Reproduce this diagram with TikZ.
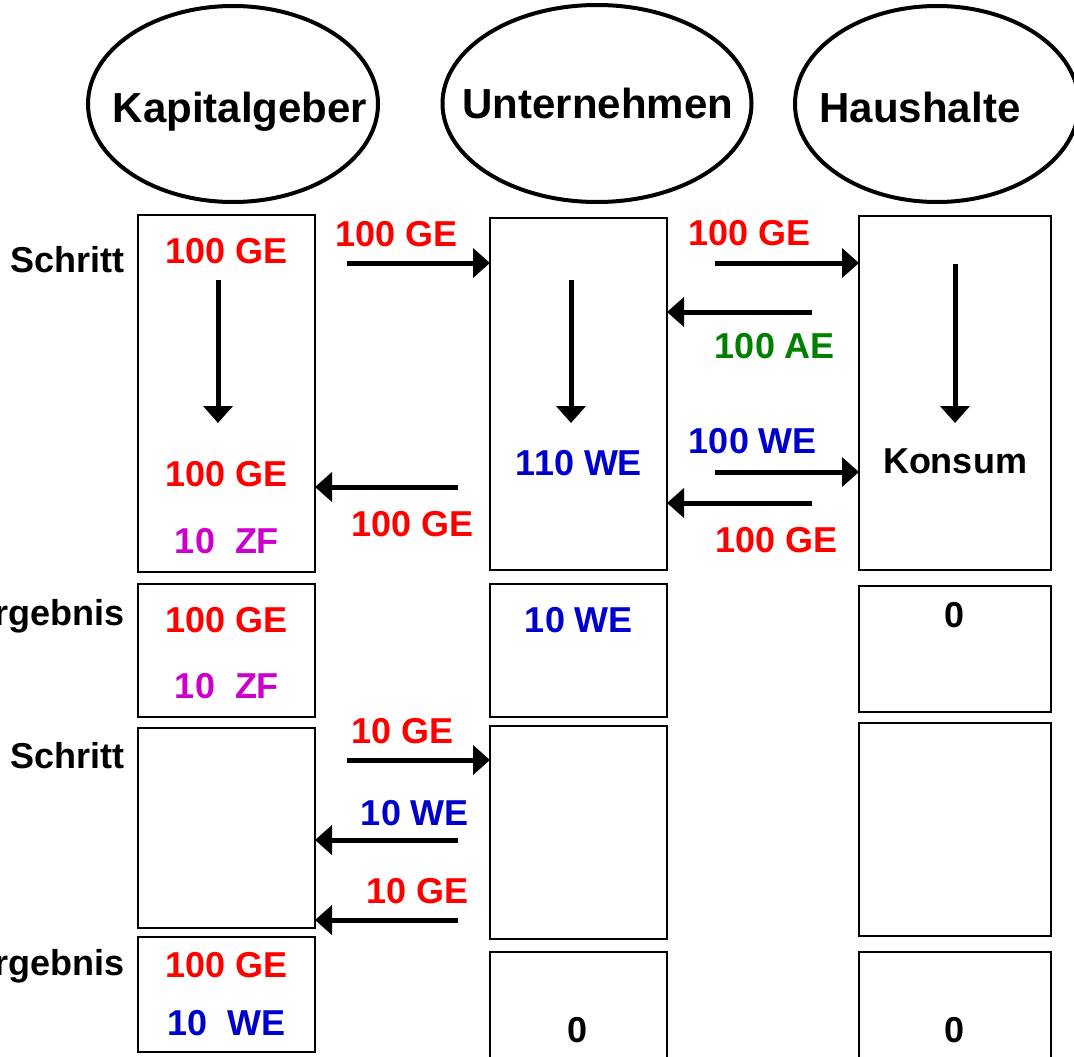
\documentclass[tikz,border=0pt]{standalone}
\usepackage{fontspec}
\setmainfont{Liberation Sans}
\usetikzlibrary{arrows.meta,shapes.geometric}
\definecolor{cred}{HTML}{FF0000}
\definecolor{cgreen}{HTML}{008000}
\definecolor{cblue}{HTML}{0000CC}
\definecolor{cmag}{HTML}{CC00CC}
\tikzset{
  txt/.style={inner sep=0pt, anchor=base, font=\bfseries\fontsize{36}{40}\selectfont},
  lbl/.style={txt, anchor=base east},
  head/.style={inner sep=0pt, anchor=base, font=\bfseries\fontsize{42}{48}\selectfont},
  ell/.style={draw, ellipse, line width=4pt, inner sep=0pt, outer sep=0pt},
  box/.style={draw, line width=1.6pt, inner sep=0pt, outer sep=0pt},
  arr/.style={line width=5pt, -{Triangle[length=17pt,width=29pt]}},
}
\begin{document}
\begin{tikzpicture}[x=1pt,y=-1pt]
\fill[white] (0,0) rectangle (1074,1057);
\clip (0,0) rectangle (1074,1057);

% header ellipses
\node[ell, minimum width=290pt, minimum height=196pt] (kg) at (233,104) {};
\node[ell, minimum width=309pt, minimum height=197pt] (un) at (597,103.5) {};
\node[ell, minimum width=284pt, minimum height=196pt] (hh) at (937,104) {};
\node[head] (kgt) at (240,122) {Kapitalgeber};
\node[head] (unt) at (598,118) {Unternehmen};
\node[head] (hht) at (920,122) {Haushalte};

% row labels
\node[lbl] (l1) at (125,272) {Schritt};
\node[lbl] (l2) at (125,625) {Ergebnis};
\node[lbl] (l3) at (125,768) {Schritt};
\node[lbl] (l4) at (125,975) {Ergebnis};

% boxes column 1
\node[box, minimum width=177pt, minimum height=357pt] (k1) at (226.5,393.5) {};
\node[box, minimum width=177pt, minimum height=133pt] (k2) at (226.5,650.5) {};
\node[box, minimum width=177pt, minimum height=200pt] (k3) at (226.5,828) {};
\node[box, minimum width=177pt, minimum height=115pt] (k4) at (226.5,994.5) {};
% boxes column 2
\node[box, minimum width=177pt, minimum height=352pt] (u1) at (578.5,394) {};
\node[box, minimum width=177pt, minimum height=133pt] (u2) at (578.5,650.5) {};
\node[box, minimum width=177pt, minimum height=213pt] (u3) at (578.5,832.5) {};
\node[box, minimum width=177pt, minimum height=128pt] (u4) at (578.5,1016) {};
% boxes column 3
\node[box, minimum width=192pt, minimum height=354pt] (h1) at (955,393) {};
\node[box, minimum width=192pt, minimum height=126pt] (h2) at (955,649) {};
\node[box, minimum width=192pt, minimum height=213pt] (h3) at (955,829.5) {};
\node[box, minimum width=192pt, minimum height=128pt] (h4) at (955,1016) {};

% texts column 1
\node[txt, text=cred] (k1a) at (227,263) {100 GE};
\node[txt, text=cred] (k1b) at (227,486) {100 GE};
\node[txt, text=cmag] (k1c) at (227,553) {10\ \ ZF};
\node[txt, text=cred] (k2a) at (227,632) {100 GE};
\node[txt, text=cmag] (k2b) at (227,698) {10\ \ ZF};
\node[txt, text=cred] (k4a) at (227,977) {100 GE};
\node[txt, text=cblue] (k4b) at (227,1035) {10\ \ WE};
% texts column 2
\node[txt, text=cblue] (u1a) at (579,475) {110 WE};
\node[txt, text=cblue] (u2a) at (579,632) {10 WE};
\node[txt] (u4a) at (578,1042) {0};
% texts column 3
\node[txt] (h1a) at (955,473) {Konsum};
\node[txt] (h2a) at (955,627) {0};
\node[txt] (h4a) at (955,1042) {0};

% internal down arrows
\coordinate (dk1) at (218,280);
\coordinate (dk2) at (218,423);
\coordinate (du1) at (571,280);
\coordinate (du2) at (571,423);
\coordinate (dh1) at (955,264);
\coordinate (dh2) at (955,423);
\draw[arr] (dk1) -- (dk2);
\draw[arr] (du1) -- (du2);
\draw[arr] (dh1) -- (dh2);

% step 1 flows
\coordinate (s1) at (347,263);
\draw[arr] (s1) -- (s1 -| u1.west);
\node[txt, text=cred] (s1l) at (397,246) {100 GE};

\coordinate (s2) at (715,263);
\draw[arr] (s2) -- (s2 -| h1.west);
\node[txt, text=cred] (s2l) at (750,245) {100 GE};

\coordinate (s3) at (812,312);
\draw[arr] (s3) -- (s3 -| u1.east);
\node[txt, text=cgreen] (s3l) at (775,358) {100 AE};

\coordinate (s4) at (715,472);
\draw[arr] (s4) -- (s4 -| h1.west);
\node[txt, text=cblue] (s4l) at (753,453) {100 WE};

\coordinate (s5) at (812,503);
\draw[arr] (s5) -- (s5 -| u1.east);
\node[txt, text=cred] (s5l) at (777,552) {100 GE};

\coordinate (s6) at (458,487);
\draw[arr] (s6) -- (s6 -| k1.east);
\node[txt, text=cred] (s6l) at (413,536) {100 GE};

% step 2 flows
\coordinate (t1) at (347,760);
\draw[arr] (t1) -- (t1 -| u3.west);
\node[txt, text=cred] (t1l) at (403,743) {10 GE};

\coordinate (t2) at (458,840);
\draw[arr] (t2) -- (t2 -| k3.east);
\node[txt, text=cblue] (t2l) at (415,825) {10 WE};

\coordinate (t3) at (458,920);
\draw[arr] (t3) -- (t3 -| k3.east);
\node[txt, text=cred] (t3l) at (418,903) {10 GE};
\end{tikzpicture}
\end{document}
